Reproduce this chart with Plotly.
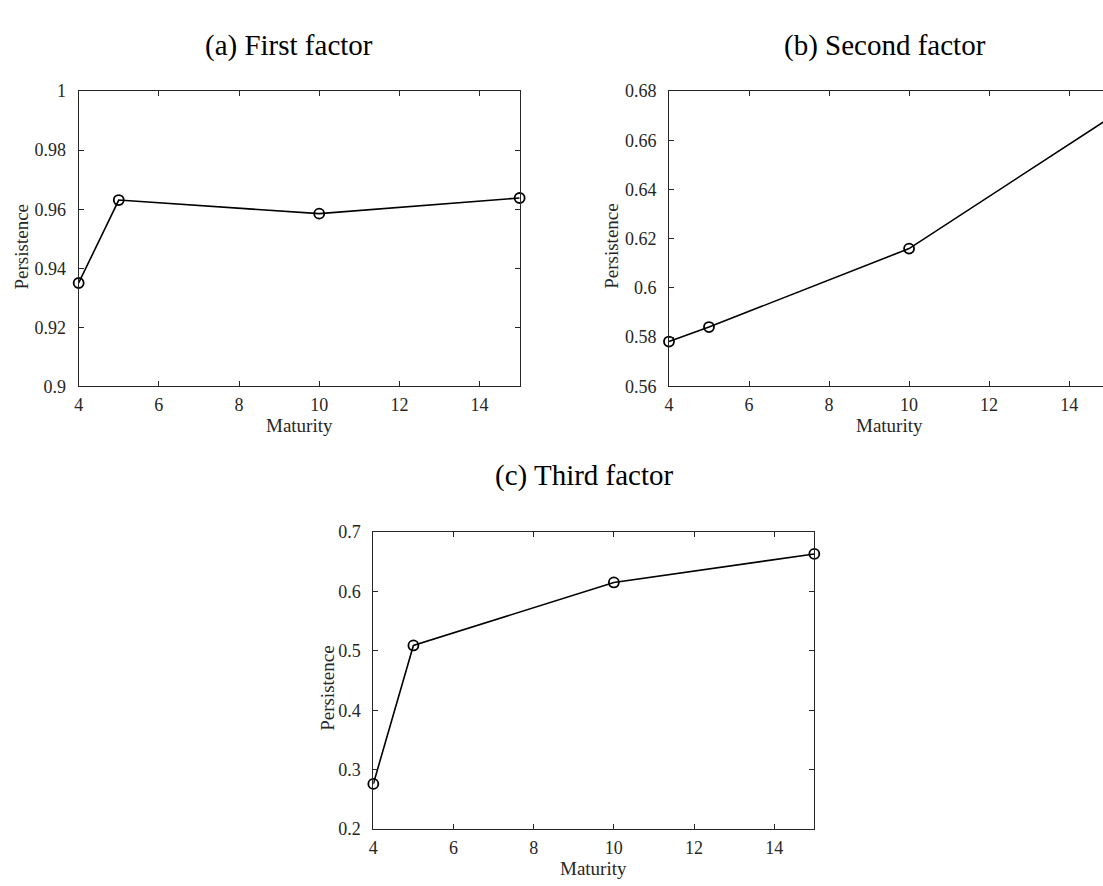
import plotly.graph_objects as go

# ---- data ----
maturity = [4, 5, 10, 15]
first_factor = [0.935, 0.9631, 0.9585, 0.9638]
second_factor = [0.5782, 0.5841, 0.616, 0.669]
third_factor = [0.276, 0.509, 0.615, 0.663]

x_ticks = [4, 6, 8, 10, 12, 14]
x_ticklabels = ["4", "6", "8", "10", "12", "14"]
y1_ticks = [0.9, 0.92, 0.94, 0.96, 0.98, 1.0]
y1_ticklabels = ["0.9", "0.92", "0.94", "0.96", "0.98", "1"]
y2_ticks = [0.56, 0.58, 0.60, 0.62, 0.64, 0.66, 0.68]
y2_ticklabels = ["0.56", "0.58", "0.6", "0.62", "0.64", "0.66", "0.68"]
y3_ticks = [0.2, 0.3, 0.4, 0.5, 0.6, 0.7]
y3_ticklabels = ["0.2", "0.3", "0.4", "0.5", "0.6", "0.7"]

titles = ["(a) First factor", "(b) Second factor", "(c) Third factor"]
x_title = "Maturity"
y_title = "Persistence"

W, H = 1103, 886
AX = "#262626"
TICKFONT = dict(family="Liberation Serif", size=18, color=AX)


def px(x):
    return x / W


def py(y):
    return 1 - y / H


fig = go.Figure()

series = [first_factor, second_factor, third_factor]
for i, s in enumerate(series):
    sfx = "" if i == 0 else str(i + 1)
    fig.add_trace(go.Scatter(
        x=maturity, y=s, mode="lines+markers",
        line=dict(color="black", width=1.6),
        marker=dict(symbol="circle-open", size=10, color="black",
                    line=dict(width=1.8, color="black")),
        cliponaxis=False, showlegend=False,
        xaxis="x" + sfx, yaxis="y" + sfx,
    ))

common_x = dict(tickvals=x_ticks, ticktext=x_ticklabels, ticks="inside",
                ticklen=5, tickwidth=1, tickcolor=AX, showline=True,
                linecolor=AX, linewidth=1, mirror="allticks", showgrid=False,
                zeroline=False, tickfont=TICKFONT, ticklabelstandoff=2)
common_y = dict(ticks="inside", ticklen=5, tickwidth=1, tickcolor=AX,
                showline=True, linecolor=AX, linewidth=1,
                showgrid=False, zeroline=False, tickfont=TICKFONT,
                ticklabelstandoff=8)

# plot areas (pixels): (left, right, top, bottom)
a1 = (74, 517, 83, 385)
a2 = (667, 1103, 83, 385)
a3 = (370, 813, 534, 838)

fig.update_layout(
    width=W, height=H, margin=dict(l=0, r=0, t=0, b=0),
    paper_bgcolor="white", plot_bgcolor="white",
    xaxis=dict(domain=[px(a1[0]), px(a1[1])], range=[4, 15], anchor="y", **common_x),
    yaxis=dict(domain=[py(a1[3]), py(a1[2])], range=[0.9, 1.0], anchor="x",
               tickvals=y1_ticks, ticktext=y1_ticklabels, mirror="allticks", **common_y),
    xaxis2=dict(domain=[px(a2[0]), px(a2[1])], range=[4, 4 + (1103 - 667) / 40.2],
                anchor="y2", **common_x),
    yaxis2=dict(domain=[py(a2[3]), py(a2[2])], range=[0.56, 0.68], anchor="x2",
                tickvals=y2_ticks, ticktext=y2_ticklabels, mirror=False, **common_y),
    xaxis3=dict(domain=[px(a3[0]), px(a3[1])], range=[4, 15], anchor="y3", **common_x),
    yaxis3=dict(domain=[py(a3[3]), py(a3[2])], range=[0.2, 0.7], anchor="x3",
                tickvals=y3_ticks, ticktext=y3_ticklabels, mirror="allticks", **common_y),
)

TITLEFONT = dict(family="Liberation Serif", size=29, color="black")
LABELFONT = dict(family="Liberation Serif", size=19, color=AX)

anns = []
for t, (cx, cy) in zip(titles, [(285, 36), (884, 36), (582, 476)]):
    anns.append(dict(text=t, x=px(cx), y=py(cy), xref="paper", yref="paper",
                     xanchor="center", yanchor="middle", showarrow=False,
                     font=TITLEFONT))
for (l, r, t, b), ylx in zip([a1, a2, a3], [17, 609, 324]):
    anns.append(dict(text=x_title, x=px(l + 221.5), y=py(b + 40), xref="paper",
                     yref="paper", xanchor="center", yanchor="middle",
                     showarrow=False, font=LABELFONT))
    anns.append(dict(text=y_title, x=px(ylx), y=py((t + b) / 2 + 8), xref="paper",
                     yref="paper", xanchor="center", yanchor="middle", textangle=-90,
                     showarrow=False, font=LABELFONT))
fig.update_layout(annotations=anns)

fig.write_html(
    "out.html",
    config={"displayModeBar": False},
    post_script="document.body.style.margin='0';document.body.style.overflow='hidden';",
)
